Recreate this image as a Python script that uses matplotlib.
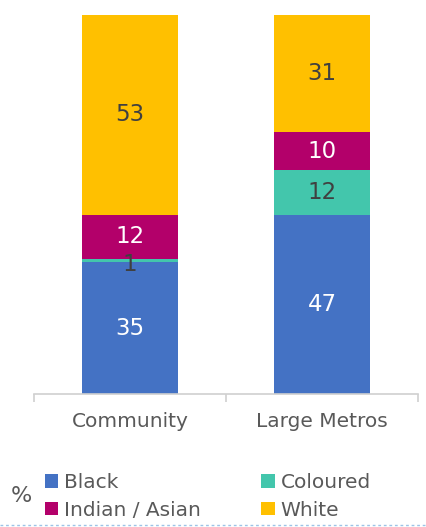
import numpy as np
import matplotlib
matplotlib.use("Agg")
import matplotlib.pyplot as plt
from matplotlib.patches import Patch
from matplotlib.lines import Line2D

plt.rcParams['font.family'] = ['DejaVu Sans']

# data (percent)
groups = ["Community", "Large Metros"]
series = ["Black", "Coloured", "Indian / Asian", "White"]
black = [34.7, 47.1]
coloured = [0.9, 11.9]
indian = [11.7, 10.0]
white = [52.7, 31.0]
labels = [[35, 47], [1, 12], [12, 10], [53, 31]]

colors = ["#4472C4", "#43C6AC", "#B3006A", "#FFC000"]
txt_colors = ["white", "#404040", "white", "#404040"]
grey = "#595959"

fig = plt.figure(figsize=(4.27, 5.27), dpi=100)
ax = fig.add_axes([34 / 427, 1 - 394 / 527, 384 / 427, 379 / 527])

x = np.arange(len(groups))
bottom = np.zeros(len(groups))
for vals, lab, c, tc in zip([black, coloured, indian, white], labels, colors, txt_colors):
    ax.bar(x, vals, 0.5, bottom=bottom, color=c, edgecolor="none")
    for xi, v, b, l in zip(x, vals, bottom, lab):
        yc = b + v / 2
        if v < 3:
            yc = b - 0.6
        ax.text(xi, yc, str(l), ha="center", va="center", color=tc, fontsize=16.5)
    bottom += np.array(vals)

ax.set_xlim(-0.5, 1.5)
ax.set_ylim(0, 100)
ax.set_yticks([])
for s in ["left", "right", "top"]:
    ax.spines[s].set_visible(False)
ax.spines["bottom"].set_color("#d0d0d0")
ax.spines["bottom"].set_linewidth(1.2)
ax.set_xticks(x)
ax.set_xticklabels(groups, fontsize=14.5, color=grey)
ax.tick_params(axis="x", which="major", length=0, pad=13)
ax.set_xticks([-0.5, 0.5, 1.5], minor=True)
ax.tick_params(axis="x", which="minor", length=6, color="#d0d0d0", width=1.2)

order = [0, 2, 1, 3]
handles = [Patch(facecolor=colors[i], edgecolor="none") for i in order]
names = [series[i] for i in order]
fig.legend(handles, names, ncol=2, loc="upper left", bbox_to_anchor=(35 / 427, 1 - 463 / 527),
           frameon=False, fontsize=14.5, labelcolor=grey, handlelength=0.65, handleheight=0.65,
           handletextpad=0.3, columnspacing=3.0, labelspacing=0.42, borderpad=0)
fig.text(11 / 427, 1 - 496 / 527, "%", fontsize=16, color=grey, va="center")

fig.add_artist(Line2D([0, 1], [0.003, 0.003], transform=fig.transFigure,
                      color="#9dc3e6", lw=1, ls=(0, (2, 2))))

fig.savefig("out.png", dpi=100)
